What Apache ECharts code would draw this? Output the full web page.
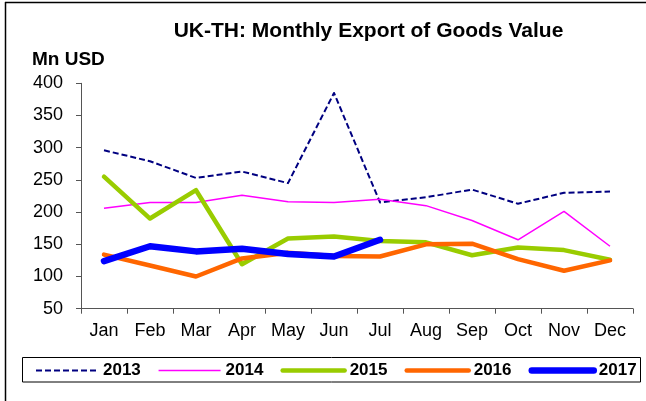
<!DOCTYPE html>
<html>
<head>
<meta charset="utf-8">
<script src="https://cdn.jsdelivr.net/npm/echarts@6/dist/echarts.min.js"></script>
<style>
  html, body { margin: 0; padding: 0; background: #fff; }
  #chart { width: 646px; height: 401px; }
</style>
</head>
<body>
<div id="chart"></div>
<script>
// Monthly export values, Mn USD
const months = ['Jan', 'Feb', 'Mar', 'Apr', 'May', 'Jun', 'Jul', 'Aug', 'Sep', 'Oct', 'Nov', 'Dec'];
const years = ['2013', '2014', '2015', '2016', '2017'];
const v2013 = [296, 279, 253, 263, 245, 385, 215, 223, 235, 213, 230, 232];
const v2014 = [206, 215, 215, 226, 216, 215, 220, 210, 187, 157, 201, 147];
const v2015 = [255, 190, 234, 119, 159, 162, 155, 153, 133, 145, 141, 126];
const v2016 = [134, 117, 100, 128, 137, 132, 131, 150, 151, 127, 109, 125];
const v2017 = [124, 147, 139, 143, 135, 131, 157];
const yTicks = [50, 100, 150, 200, 250, 300, 350, 400];

const font = '"Liberation Sans", Arial, sans-serif';

const styles = [
  { color: '#000080', width: 2, type: [6, 3], cap: 'butt' },
  { color: '#FF00FF', width: 1.5, type: 'solid', cap: 'butt' },
  { color: '#99CC00', width: 4.5, type: 'solid', cap: 'round' },
  { color: '#FF6600', width: 4.5, type: 'solid', cap: 'round' },
  { color: '#0000FF', width: 6.5, type: 'solid', cap: 'round' }
];
const values = [v2013, v2014, v2015, v2016, v2017];

const lineStyleOf = (s) => ({ color: s.color, width: s.width, type: s.type, cap: s.cap, join: 'round' });

const chart = echarts.init(document.getElementById('chart'), null, { renderer: 'canvas' });

chart.setOption({
  animation: false,
  backgroundColor: '#ffffff',
  title: [
    {
      text: 'UK-TH: Monthly Export of Goods Value',
      left: 368.5, top: 20.6, textAlign: 'center',
      padding: 0,
      textStyle: { fontFamily: font, fontSize: 21, fontWeight: 'bold', color: '#000' }
    },
    {
      text: 'Mn USD',
      left: 32, top: 50.5,
      padding: 0,
      textStyle: { fontFamily: font, fontSize: 19, fontWeight: 'bold', color: '#000' }
    }
  ],
  grid: { left: 81, right: 13, top: 83.3, bottom: 92.3, containLabel: false },
  xAxis: {
    type: 'category',
    data: months,
    boundaryGap: true,
    axisLine: { show: true, lineStyle: { color: '#555', width: 1 } },
    axisTick: { show: true, length: 5, alignWithLabel: false, lineStyle: { color: '#555' } },
    axisLabel: { fontFamily: font, fontSize: 18, color: '#000', margin: 13, interval: 0 },
    splitLine: { show: false }
  },
  yAxis: {
    type: 'value',
    min: yTicks[0],
    max: yTicks[yTicks.length - 1],
    interval: 50,
    axisLine: { show: true, lineStyle: { color: '#555', width: 1 } },
    axisTick: { show: true, length: 5, lineStyle: { color: '#555' } },
    axisLabel: { fontFamily: font, fontSize: 18, color: '#000', margin: 18 },
    splitLine: { show: false }
  },
  legend: {
    left: 35, top: 362, width: 611,
    padding: 0,
    orient: 'horizontal',
    itemWidth: 62, itemHeight: 14, itemGap: 17,
    selectedMode: false,
    data: years.map((y, i) => ({
      name: y,
      lineStyle: lineStyleOf(styles[i]),
      itemStyle: { opacity: 0 }
    })),
    textStyle: { fontFamily: font, fontSize: 17, fontWeight: 'bold', color: '#000' }
  },
  series: years.map((y, i) => ({
    name: y,
    type: 'line',
    data: values[i],
    symbol: 'none',
    showSymbol: false,
    smooth: false,
    z: 2 + i,
    lineStyle: lineStyleOf(styles[i]),
    itemStyle: { color: styles[i].color },
    emphasis: { disabled: true }
  })),
  graphic: [
    { type: 'line', shape: { x1: 5, y1: 2.5, x2: 646, y2: 2.5 }, style: { stroke: '#000', lineWidth: 1.5 }, silent: true },
    { type: 'line', shape: { x1: 5.5, y1: 2, x2: 5.5, y2: 401 }, style: { stroke: '#000', lineWidth: 1.5 }, silent: true },
    { type: 'rect', shape: { x: 22.5, y: 357.5, width: 618, height: 24.5 }, style: { fill: 'none', stroke: '#000', lineWidth: 1 }, silent: true }
  ]
});
</script>
</body>
</html>
